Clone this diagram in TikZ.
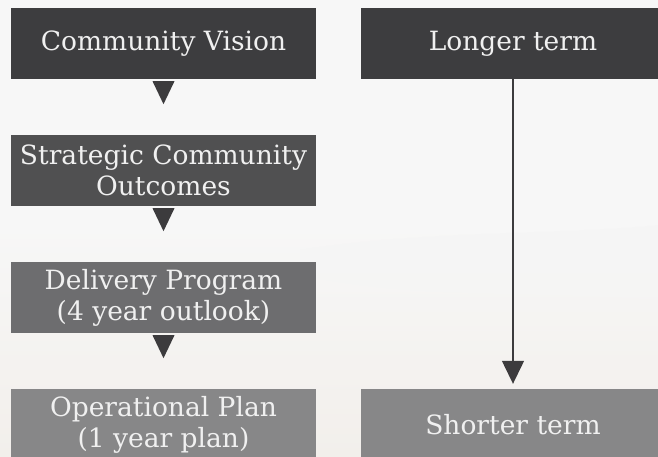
\documentclass[tikz,border=0pt]{standalone}
\usepackage{fontspec}
\setmainfont{DejaVu Serif}
\usetikzlibrary{calc,arrows.meta}
\definecolor{tierA}{HTML}{3D3D3F}
\definecolor{tierB}{HTML}{505051}
\definecolor{tierC}{HTML}{6D6D6F}
\definecolor{tierD}{HTML}{878788}
\definecolor{ink}{HTML}{3C3B3D}
\definecolor{paper}{HTML}{F7F7F7}
\definecolor{sand}{HTML}{F2EFEB}
\tikzset{
  tier/.style={rectangle, inner sep=0pt, minimum width=305pt, minimum height=71pt,
    align=center, text=white!94!black, font=\fontsize{26.5}{31}\selectfont},
  termbox/.style={tier, minimum width=304pt},
  pointer/.style={fill=ink},
  span/.style={draw=ink, line width=1.3pt, -{Triangle[length=23pt,width=22pt]}}
}
\begin{document}
\begin{tikzpicture}[x=1pt,y=-1pt]
  % canvas
  \useasboundingbox (0,0) rectangle (658,457);
  \clip (0,0) rectangle (658,457);
  \shade[top color=paper, bottom color=sand, middle color=paper!98!sand] (0,0) rectangle (658,457);
  \fill[black!4, opacity=0.6] (300,250) .. controls (420,230) and (560,235) .. (658,225)
     -- (658,300) .. controls (520,290) and (420,300) .. (300,275) -- cycle;

  % planning hierarchy
  \node[tier, fill=tierA] (vision) at (163.5,43.5) {Community Vision};
  \node[tier, fill=tierB] (outcomes) at (163.5,170.5) {Strategic Community\\Outcomes};
  \node[tier, fill=tierC] (delivery) at (163.5,297.5) {Delivery Program\\(4 year outlook)};
  \node[tier, fill=tierD] (operational) at (163.5,424.5) {Operational Plan\\(1 year plan)};

  % time horizon
  \node[termbox, fill=tierA] (longer) at (513,43.5) {Longer term};
  \node[termbox, fill=tierD] (shorter) at (513,424.5) {Shorter term};

  % step pointers below each tier
  \foreach \a in {vision, outcomes, delivery}
    \fill[pointer] ($(\a.south)+(-11,2)$) -- ++(22,0) -- ++(-11,23) -- cycle;

  \draw[span] (longer.south) -- ($(shorter.north)+(0,-5)$);
\end{tikzpicture}
\end{document}
